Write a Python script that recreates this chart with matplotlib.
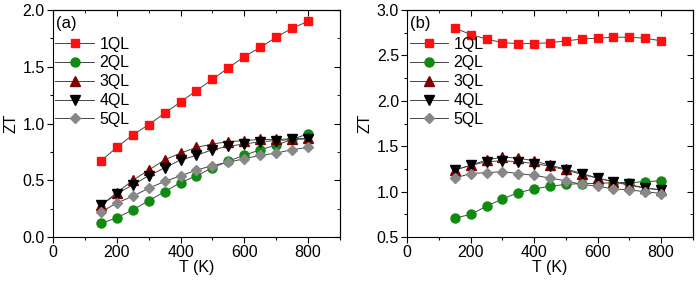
import numpy as np
import matplotlib
matplotlib.use("Agg")
import matplotlib.pyplot as plt
from matplotlib.ticker import MultipleLocator

plt.rcParams['font.family'] = ['Liberation Sans', 'DejaVu Sans']
plt.rcParams['font.size'] = 11

# temperatures (K)
T = [150, 200, 250, 300, 350, 400, 450, 500, 550, 600, 650, 700, 750, 800]
labels = ["1QL", "2QL", "3QL", "4QL", "5QL"]

# panel (a)
zt_a_1 = [0.67, 0.79, 0.90, 0.99, 1.09, 1.19, 1.29, 1.39, 1.49, 1.59, 1.67, 1.76, 1.84, 1.90]
zt_a_2 = [0.12, 0.17, 0.24, 0.32, 0.40, 0.48, 0.54, 0.61, 0.67, 0.72, 0.77, 0.81, 0.86, 0.91]
zt_a_3 = [0.28, 0.39, 0.50, 0.59, 0.68, 0.74, 0.79, 0.82, 0.84, 0.85, 0.86, 0.86, 0.865, 0.87]
zt_a_4 = [0.28, 0.38, 0.46, 0.54, 0.61, 0.68, 0.72, 0.77, 0.80, 0.82, 0.84, 0.85, 0.86, 0.865]
zt_a_5 = [0.22, 0.30, 0.36, 0.43, 0.49, 0.54, 0.59, 0.63, 0.66, 0.69, 0.72, 0.74, 0.77, 0.79]

# panel (b)
zt_b_1 = [2.80, 2.73, 2.68, 2.64, 2.63, 2.63, 2.64, 2.66, 2.68, 2.69, 2.70, 2.70, 2.69, 2.66]
zt_b_2 = [0.71, 0.75, 0.84, 0.92, 0.99, 1.03, 1.06, 1.08, 1.09, 1.09, 1.10, 1.10, 1.11, 1.12]
zt_b_3 = [1.24, 1.29, 1.35, 1.38, 1.37, 1.34, 1.29, 1.25, 1.20, 1.15, 1.11, 1.07, 1.04, 1.02]
zt_b_4 = [1.24, 1.29, 1.33, 1.34, 1.33, 1.31, 1.28, 1.24, 1.19, 1.15, 1.11, 1.08, 1.04, 1.02]
zt_b_5 = [1.15, 1.20, 1.21, 1.22, 1.20, 1.18, 1.15, 1.12, 1.08, 1.06, 1.03, 1.02, 1.00, 0.98]

markers = ['s', 'o', '^', 'v', 'D']
colors = ['#ff1010', '#118a11', '#800000', '#000000', '#888888']
msizes = [6, 6.5, 6.5, 6.5, 5.5]

fig = plt.figure(figsize=(6.99, 2.85), dpi=100)
ax_a = fig.add_axes([0.0758, 0.168, 0.4106, 0.797])
ax_b = fig.add_axes([0.5827, 0.168, 0.4083, 0.797])

panels = [
    (ax_a, [zt_a_1, zt_a_2, zt_a_3, zt_a_4, zt_a_5], (0, 2.0), 0.5, "(a)"),
    (ax_b, [zt_b_1, zt_b_2, zt_b_3, zt_b_4, zt_b_5], (0.5, 3.0), 0.5, "(b)"),
]

for ax, series, ylim, ystep, tag in panels:
    for y, m, c, ms, lab in zip(series, markers, colors, msizes, labels):
        ax.plot(T, y, color='#444444', lw=0.7, marker=m, ms=ms,
                markerfacecolor=c, markeredgecolor=c, label=lab)
    ax.set_xlim(0, 900)
    ax.set_ylim(*ylim)
    ax.xaxis.set_major_locator(MultipleLocator(200))
    ax.xaxis.set_minor_locator(MultipleLocator(100))
    ax.yaxis.set_major_locator(MultipleLocator(ystep))
    ax.yaxis.set_minor_locator(MultipleLocator(ystep / 2))
    ax.yaxis.set_major_formatter(matplotlib.ticker.FormatStrFormatter('%.1f'))
    ax.tick_params(which='both', direction='out', top=False, right=False, labelsize=11.5)
    ax.tick_params(which='major', length=4, width=0.8, pad=2)
    ax.tick_params(which='minor', length=2.5, width=0.8)
    # inward ticks on top/right
    sec = ax.secondary_xaxis('top')
    sec.xaxis.set_major_locator(MultipleLocator(200))
    sec.xaxis.set_minor_locator(MultipleLocator(100))
    sec.tick_params(which='both', direction='in', labeltop=False)
    sec.tick_params(which='major', length=4)
    sec.tick_params(which='minor', length=2.5)
    secy = ax.secondary_yaxis('right')
    secy.yaxis.set_major_locator(MultipleLocator(ystep))
    secy.yaxis.set_minor_locator(MultipleLocator(ystep / 2))
    secy.tick_params(which='both', direction='in', labelright=False)
    secy.tick_params(which='major', length=4)
    secy.tick_params(which='minor', length=2.5)
    ax.set_xlabel("T (K)", fontsize=11.5, labelpad=0)
    ax.set_ylabel("ZT", fontsize=11.5, labelpad=3)
    ax.text(0.01, 0.975, tag, transform=ax.transAxes, ha='left', va='top', fontsize=12)
    ax.legend(loc='upper left', bbox_to_anchor=(-0.025, 0.925), frameon=False,
              fontsize=11.5, handlelength=2.4, handletextpad=0.35,
              labelspacing=0.24, borderaxespad=0.2)

fig.savefig("out.png", dpi=100)
